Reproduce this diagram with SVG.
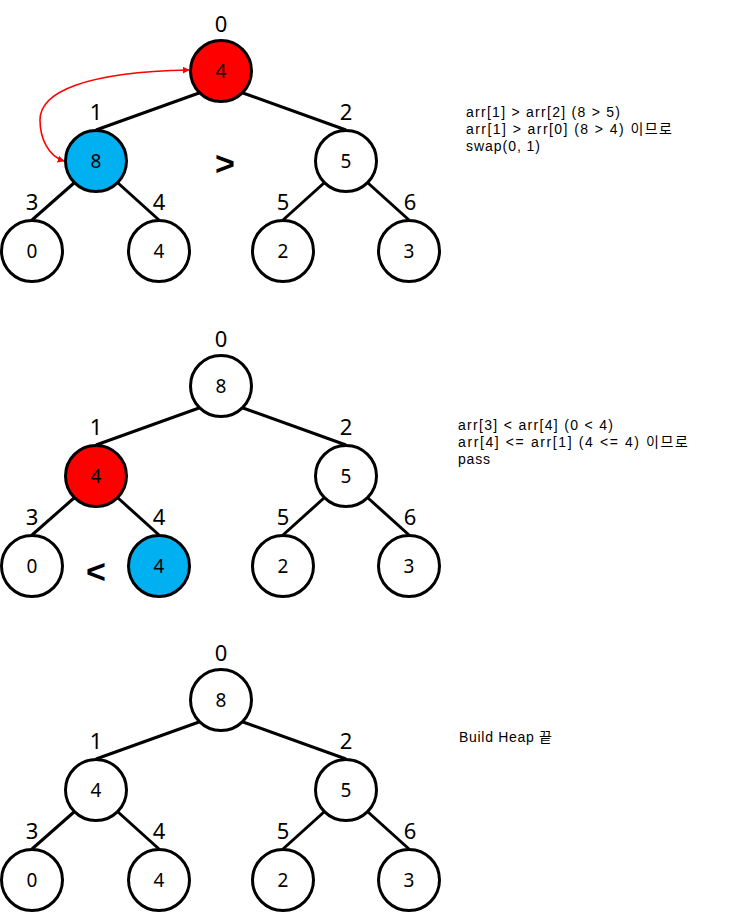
<svg xmlns="http://www.w3.org/2000/svg" width="734" height="914" viewBox="0 0 734 914">
<style>
.n{stroke:#000;stroke-width:3;fill:#fff}
.red{fill:#ff0000}
.blue{fill:#00b0f0}
.v{font-family:"Noto Sans","Noto Sans CJK KR",sans-serif;font-size:19px;text-anchor:middle;fill:#000}
.l{font-family:"Noto Sans","Noto Sans CJK KR",sans-serif;font-size:22px;text-anchor:middle;fill:#000}
.e{stroke:#000;stroke-width:3;fill:none}
.t{font-family:"Liberation Sans","Noto Sans CJK KR",sans-serif;font-size:14px;fill:#000}
.cmp{font-family:"Liberation Sans",sans-serif;font-size:34px;font-weight:bold;text-anchor:middle;fill:#000}
</style>
<defs>
<marker id="ah" viewBox="0 0 10 10" refX="9" refY="5" markerWidth="7" markerHeight="7" orient="auto-start-reverse" markerUnits="userSpaceOnUse">
<path d="M0,0 L10,5 L0,10 z" fill="#ff0000"/>
</marker>
</defs>

<!-- Tree 1 -->
<g id="tree1">
<g id="t1-edges">
<line class="e" x1="199" y1="93" x2="96" y2="130"/>
<line class="e" x1="243" y1="93" x2="346" y2="130"/>
<line class="e" x1="74" y1="183" x2="32" y2="220"/>
<line class="e" x1="118" y1="183" x2="159" y2="220"/>
<line class="e" x1="324" y1="183" x2="283" y2="220"/>
<line class="e" x1="368" y1="183" x2="409" y2="220"/>
<path d="M64,161 C48,156 40,138 40,120 C40,92 85,72 189,70" fill="none" stroke="#ff0000" stroke-width="1.6" marker-start="url(#ah)" marker-end="url(#ah)"/>
</g>
<g id="t1-n0"><circle class="n red" cx="221" cy="71" r="30.5"/><text class="v" x="221" y="78">4</text><text class="l" x="221" y="32">0</text></g>
<g id="t1-n1"><circle class="n blue" cx="96" cy="161" r="30.5"/><text class="v" x="96" y="168">8</text><text class="l" x="96" y="120">1</text></g>
<g id="t1-n2"><circle class="n" cx="346" cy="161" r="30.5"/><text class="v" x="346" y="168">5</text><text class="l" x="346" y="120">2</text></g>
<g id="t1-n3"><circle class="n" cx="32" cy="251" r="30.5"/><text class="v" x="32" y="258">0</text><text class="l" x="32" y="210">3</text></g>
<g id="t1-n4"><circle class="n" cx="159" cy="251" r="30.5"/><text class="v" x="159" y="258">4</text><text class="l" x="159" y="210">4</text></g>
<g id="t1-n5"><circle class="n" cx="283" cy="251" r="30.5"/><text class="v" x="283" y="258">2</text><text class="l" x="283" y="210">5</text></g>
<g id="t1-n6"><circle class="n" cx="409" cy="251" r="30.5"/><text class="v" x="409" y="258">3</text><text class="l" x="410" y="210">6</text></g>
<text class="cmp" x="225" y="175">&gt;</text>
<text class="t" x="466" y="117" textLength="154" lengthAdjust="spacing">arr[1] &gt; arr[2] (8 &gt; 5)</text>
<text class="t" x="466" y="134" textLength="206" lengthAdjust="spacing">arr[1] &gt; arr[0] (8 &gt; 4) 이므로</text>
<text class="t" x="466" y="151" textLength="74" lengthAdjust="spacing">swap(0, 1)</text>
</g>

<!-- Tree 2 -->
<g id="tree2" transform="translate(0,315)">
<g id="t2-edges">
<line class="e" x1="199" y1="93" x2="96" y2="130"/>
<line class="e" x1="243" y1="93" x2="346" y2="130"/>
<line class="e" x1="74" y1="183" x2="32" y2="220"/>
<line class="e" x1="118" y1="183" x2="159" y2="220"/>
<line class="e" x1="324" y1="183" x2="283" y2="220"/>
<line class="e" x1="368" y1="183" x2="409" y2="220"/>
</g>
<g id="t2-n0"><circle class="n" cx="221" cy="71" r="30.5"/><text class="v" x="221" y="78">8</text><text class="l" x="221" y="32">0</text></g>
<g id="t2-n1"><circle class="n red" cx="96" cy="161" r="30.5"/><text class="v" x="96" y="168">4</text><text class="l" x="96" y="120">1</text></g>
<g id="t2-n2"><circle class="n" cx="346" cy="161" r="30.5"/><text class="v" x="346" y="168">5</text><text class="l" x="346" y="120">2</text></g>
<g id="t2-n3"><circle class="n" cx="32" cy="251" r="30.5"/><text class="v" x="32" y="258">0</text><text class="l" x="32" y="210">3</text></g>
<g id="t2-n4"><circle class="n blue" cx="159" cy="251" r="30.5"/><text class="v" x="159" y="258">4</text><text class="l" x="159" y="210">4</text></g>
<g id="t2-n5"><circle class="n" cx="283" cy="251" r="30.5"/><text class="v" x="283" y="258">2</text><text class="l" x="283" y="210">5</text></g>
<g id="t2-n6"><circle class="n" cx="409" cy="251" r="30.5"/><text class="v" x="409" y="258">3</text><text class="l" x="410" y="210">6</text></g>
<text class="cmp" x="96" y="268">&lt;</text>
<text class="t" x="458" y="115" textLength="155" lengthAdjust="spacing">arr[3] &lt; arr[4] (0 &lt; 4)</text>
<text class="t" x="458" y="132" textLength="230" lengthAdjust="spacing">arr[4] &lt;= arr[1] (4 &lt;= 4) 이므로</text>
<text class="t" x="458" y="149" textLength="32" lengthAdjust="spacing">pass</text>
</g>

<!-- Tree 3 -->
<g id="tree3" transform="translate(0,629)">
<g id="t3-edges">
<line class="e" x1="199" y1="93" x2="96" y2="130"/>
<line class="e" x1="243" y1="93" x2="346" y2="130"/>
<line class="e" x1="74" y1="183" x2="32" y2="220"/>
<line class="e" x1="118" y1="183" x2="159" y2="220"/>
<line class="e" x1="324" y1="183" x2="283" y2="220"/>
<line class="e" x1="368" y1="183" x2="409" y2="220"/>
</g>
<g id="t3-n0"><circle class="n" cx="221" cy="71" r="30.5"/><text class="v" x="221" y="78">8</text><text class="l" x="221" y="32">0</text></g>
<g id="t3-n1"><circle class="n" cx="96" cy="161" r="30.5"/><text class="v" x="96" y="168">4</text><text class="l" x="96" y="120">1</text></g>
<g id="t3-n2"><circle class="n" cx="346" cy="161" r="30.5"/><text class="v" x="346" y="168">5</text><text class="l" x="346" y="120">2</text></g>
<g id="t3-n3"><circle class="n" cx="32" cy="251" r="30.5"/><text class="v" x="32" y="258">0</text><text class="l" x="32" y="210">3</text></g>
<g id="t3-n4"><circle class="n" cx="159" cy="251" r="30.5"/><text class="v" x="159" y="258">4</text><text class="l" x="159" y="210">4</text></g>
<g id="t3-n5"><circle class="n" cx="283" cy="251" r="30.5"/><text class="v" x="283" y="258">2</text><text class="l" x="283" y="210">5</text></g>
<g id="t3-n6"><circle class="n" cx="409" cy="251" r="30.5"/><text class="v" x="409" y="258">3</text><text class="l" x="410" y="210">6</text></g>
<text class="t" x="459" y="113" textLength="93" lengthAdjust="spacing">Build Heap 끝</text>
</g>
</svg>
